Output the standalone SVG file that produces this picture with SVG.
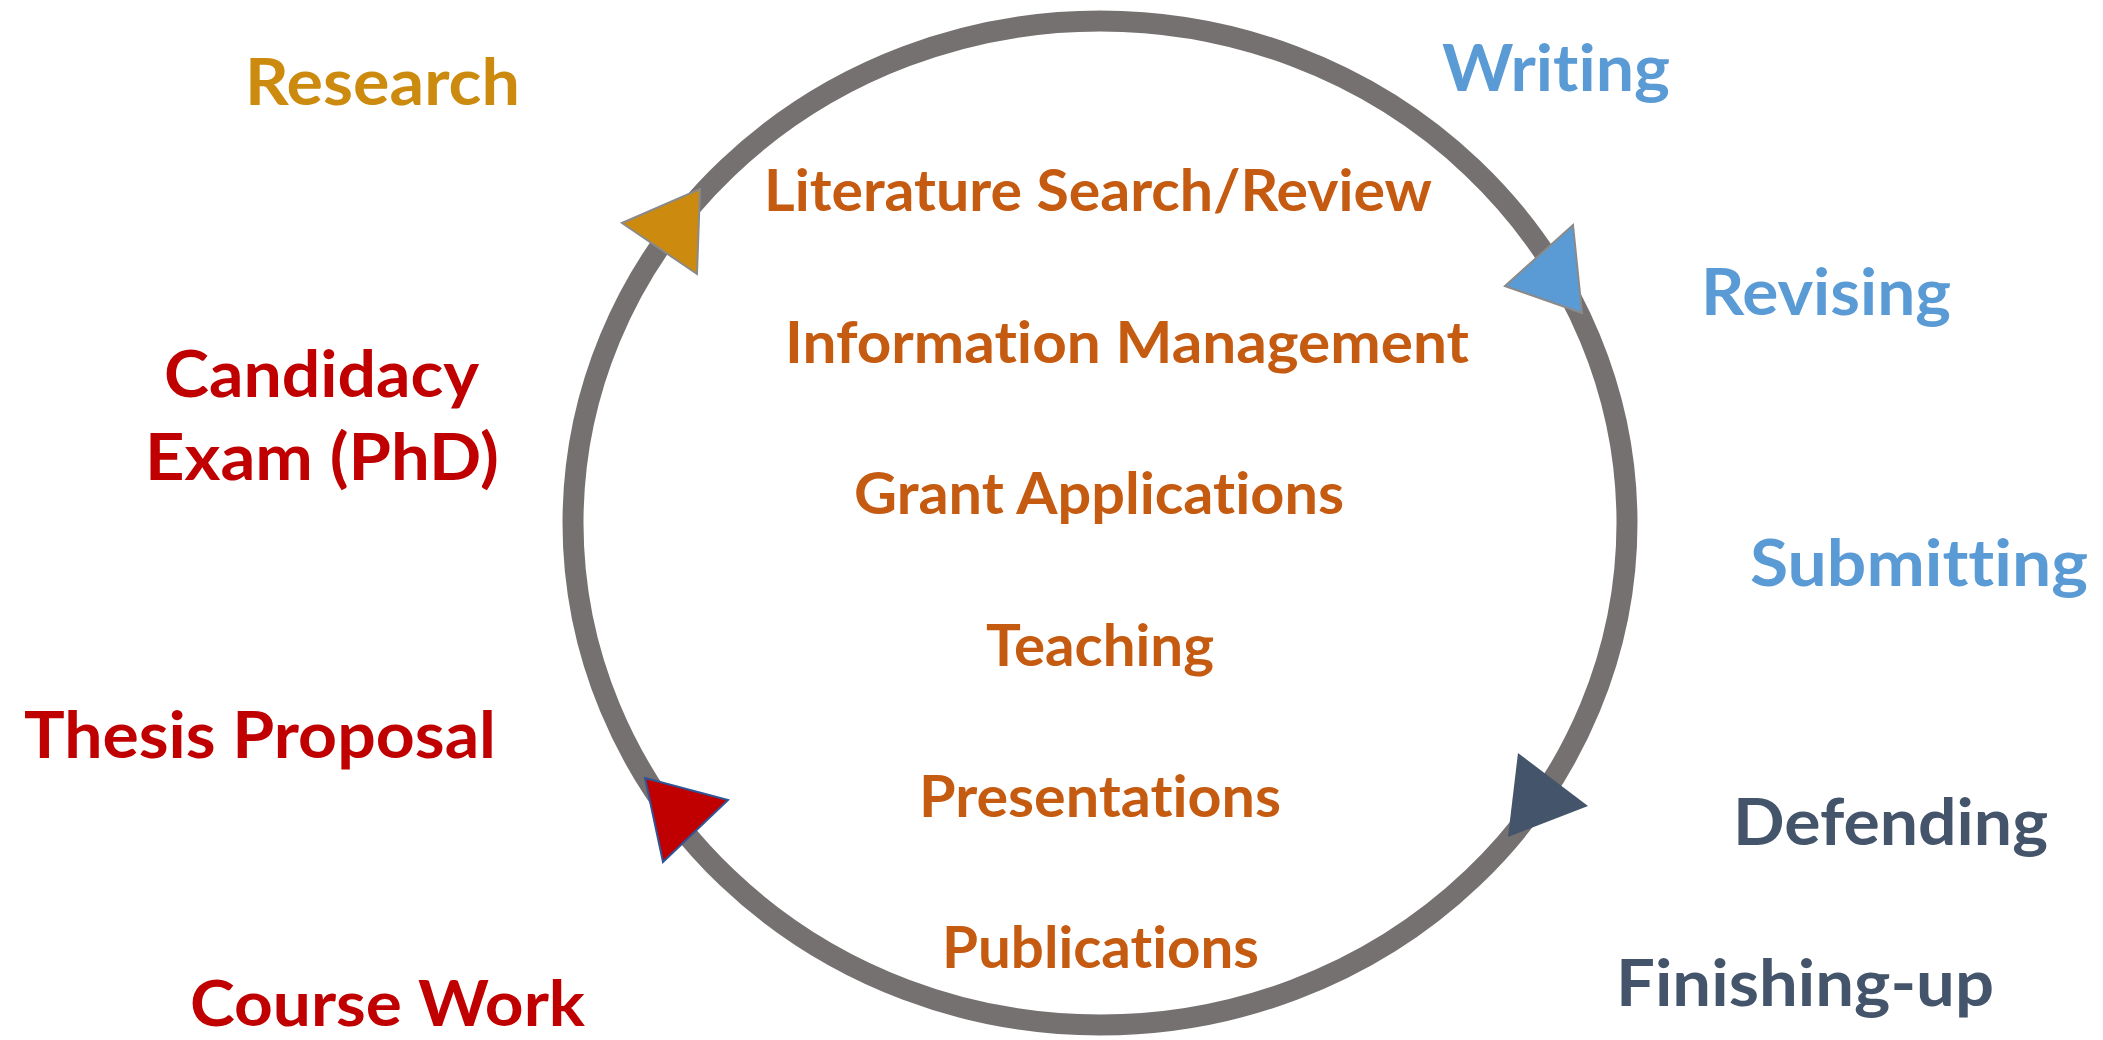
<svg xmlns="http://www.w3.org/2000/svg" width="2103" height="1040" viewBox="0 0 2103 1040">
<style>
text{font-family:Lato,"Open Sans","Liberation Sans",sans-serif;font-weight:bold;font-variant-ligatures:none;font-feature-settings:"liga" 0,"dlig" 0}
.c{font-size:58px;fill:#C55A11}
.o{font-size:65px}
.gold{fill:#CC8A0E}.blue{fill:#5B9BD5}.red{fill:#C00000}.navy{fill:#44546A}
</style>
<rect width="2103" height="1040" fill="#fff"/>
<g id="connectors">
<ellipse cx="1100" cy="523" rx="527" ry="502" fill="none" stroke="#767171" stroke-width="21"/>
<polygon points="622,223 700,189 697,274" fill="#CC8A0E" stroke="#8a8a8a" stroke-width="2"/>
<polygon points="1505,286 1573,225 1582,313" fill="#5B9BD5" stroke="#8a8a8a" stroke-width="2"/>
<polygon points="645,778 728,800 663,862" fill="#C00000" stroke="#2F5597" stroke-width="2"/>
<polygon points="1518,753 1588,806 1508,837" fill="#44546A"/>
</g>
<g id="center-items">
<text class="c" x="764" y="211" textLength="668" lengthAdjust="spacingAndGlyphs">Literature Search/Review</text>
<text class="c" x="785" y="363" textLength="684" lengthAdjust="spacingAndGlyphs">Information Management</text>
<text class="c" x="854" y="514" textLength="490" lengthAdjust="spacingAndGlyphs">Grant Applications</text>
<text class="c" x="986" y="666" textLength="228" lengthAdjust="spacingAndGlyphs">Teaching</text>
<text class="c" x="919" y="817" textLength="362" lengthAdjust="spacingAndGlyphs">Presentations</text>
<text class="c" x="942" y="968" textLength="317" lengthAdjust="spacingAndGlyphs">Publications</text>
</g>
<g id="research"><text class="o gold" x="245" y="105" textLength="275" lengthAdjust="spacingAndGlyphs">Research</text></g>
<g id="candidacy">
<text class="o red" x="164" y="397" textLength="315" lengthAdjust="spacingAndGlyphs">Candidacy</text>
<text class="o red" x="145" y="480" textLength="354" lengthAdjust="spacingAndGlyphs">Exam (PhD)</text>
</g>
<g id="thesis-proposal"><text class="o red" x="24" y="758" textLength="472" lengthAdjust="spacingAndGlyphs">Thesis Proposal</text></g>
<g id="course-work"><text class="o red" x="190" y="1026" style="font-size:63px" textLength="395" lengthAdjust="spacingAndGlyphs">Course Work</text></g>
<g id="writing"><text class="o blue" x="1442" y="91" textLength="228" lengthAdjust="spacingAndGlyphs">Writing</text></g>
<g id="revising"><text class="o blue" x="1701" y="315" textLength="250" lengthAdjust="spacingAndGlyphs">Revising</text></g>
<g id="submitting"><text class="o blue" x="1750" y="586" textLength="338" lengthAdjust="spacingAndGlyphs">Submitting</text></g>
<g id="defending"><text class="o navy" x="1733" y="845" textLength="315" lengthAdjust="spacingAndGlyphs">Defending</text></g>
<g id="finishing-up"><text class="o navy" x="1616" y="1006" textLength="378" lengthAdjust="spacingAndGlyphs">Finishing-up</text></g>
</svg>
